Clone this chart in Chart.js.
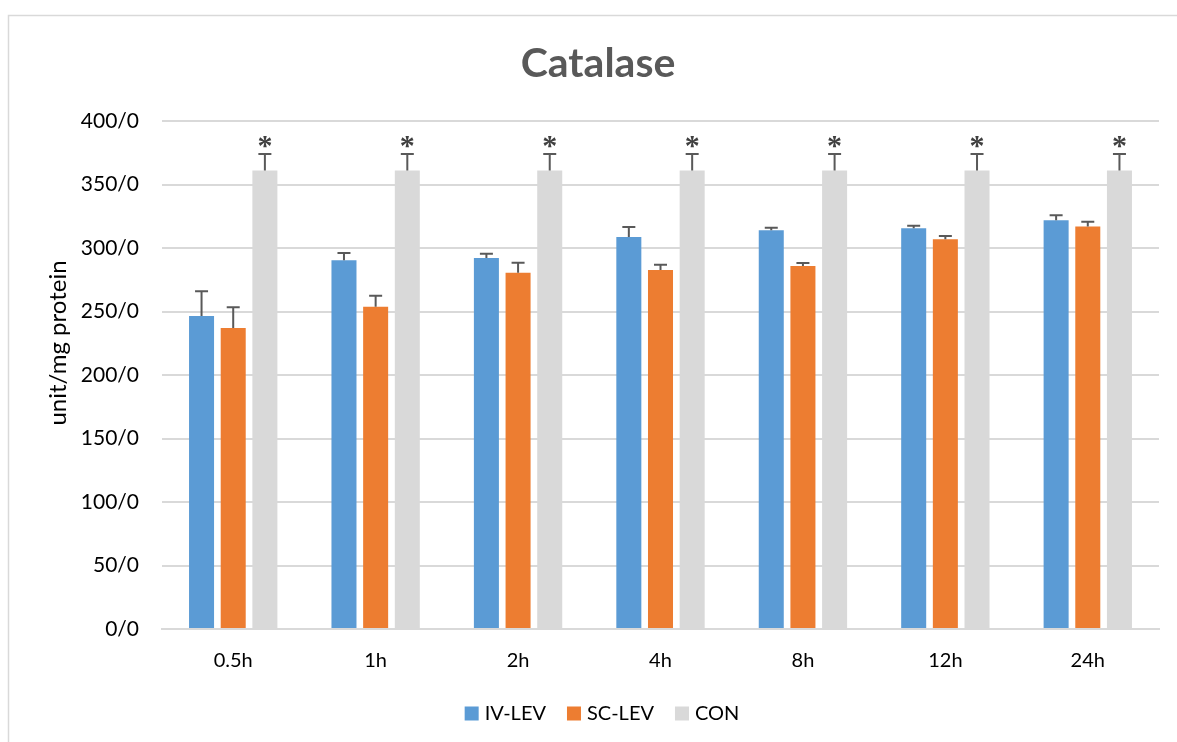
<!DOCTYPE html>
<html><head><meta charset="utf-8">
<script src="https://cdn.jsdelivr.net/npm/chart.js@4.4.1/dist/chart.umd.min.js"></script>
<style>html,body{margin:0;padding:0;background:#fff;overflow:hidden}#wrap{position:absolute;left:0;top:0;width:1177px;height:742px}</style>
</head><body><div id="wrap"><canvas id="c" width="1177" height="742"></canvas></div>
<script>
const categories = ['0.5h', '1h', '2h', '4h', '8h', '12h', '24h'];
const seriesNames = ['IV-LEV', 'SC-LEV', 'CON'];
const ivLev = [246.5, 290.3, 292.1, 308.7, 313.9, 315.5, 321.8];
const ivLevErr = [19.5, 5.8, 3.4, 7.8, 2.1, 2.1, 3.9];
const scLev = [237.0, 253.8, 280.6, 282.7, 285.8, 306.8, 317.0];
const scLevErr = [16.3, 8.7, 7.8, 4.2, 2.4, 2.6, 3.7];
const con = [361, 361, 361, 361, 361, 361, 361];
const conErr = [13, 13, 13, 13, 13, 13, 13];
const conMarks = ['*', '*', '*', '*', '*', '*', '*'];
const yTickValues = [0, 50, 100, 150, 200, 250, 300, 350, 400];
const yTickSuffix = '/0';
const chartTitle = 'Catalase';
const yAxisTitle = 'unit/mg protein';

const colors = ['#5b9bd5', '#ed7d31', '#d9d9d9'];
const FONT = 'Lato';

const errorBarPlugin = {
  id: 'errorBars',
  afterDatasetsDraw(chart) {
    const ctx = chart.ctx;
    const ys = chart.scales.y;
    chart.data.datasets.forEach((ds, di) => {
      const meta = chart.getDatasetMeta(di);
      meta.data.forEach((bar, i) => {
        const v = ds.data[i], e = ds.errors[i];
        const yTop = ys.getPixelForValue(v + e);
        const yBase = ys.getPixelForValue(v);
        ctx.save();
        ctx.strokeStyle = '#595959';
        ctx.lineWidth = 2;
        ctx.beginPath();
        ctx.moveTo(bar.x, yBase);
        ctx.lineTo(bar.x, yTop);
        ctx.moveTo(bar.x - 6.5, yTop);
        ctx.lineTo(bar.x + 6.5, yTop);
        ctx.stroke();
        if (ds.marks) {
          ctx.fillStyle = '#404040';
          ctx.font = 'bold 30px "Liberation Serif"';
          ctx.textAlign = 'center';
          ctx.textBaseline = 'alphabetic';
          ctx.fillText(ds.marks[i], bar.x, yTop + 1);
        }
        ctx.restore();
      });
    });
  }
};

const decorPlugin = {
  id: 'decor',
  beforeDraw(chart) {
    const ctx = chart.ctx;
    ctx.save();
    ctx.fillStyle = '#fff';
    ctx.fillRect(0, 0, chart.width, chart.height);
    ctx.strokeStyle = '#d9d9d9';
    ctx.lineWidth = 1.5;
    ctx.beginPath();
    ctx.moveTo(8.5, chart.height + 5);
    ctx.lineTo(8.5, 15.5);
    ctx.lineTo(chart.width + 5, 15.5);
    ctx.stroke();
    ctx.restore();
  },
  afterDraw(chart) {
    const ctx = chart.ctx;
    ctx.save();
    ctx.fillStyle = '#595959';
    ctx.font = 'bold 41px ' + FONT;
    ctx.textAlign = 'center';
    ctx.textBaseline = 'alphabetic';
    ctx.fillText(chartTitle, 598, 77);
    ctx.fillStyle = '#000';
    ctx.font = '24px ' + FONT;
    ctx.translate(58, 343);
    ctx.rotate(-Math.PI / 2);
    ctx.textBaseline = 'middle';
    ctx.fillText(yAxisTitle, 0, 0);
    ctx.restore();
    ctx.save();
    ctx.font = '20px ' + FONT;
    ctx.textBaseline = 'middle';
    ctx.textAlign = 'left';
    const box = 14, gapBox = 6, gapItem = 21;
    let total = 0;
    const widths = chart.data.datasets.map(d => ctx.measureText(d.label).width);
    widths.forEach((w, i) => { total += box + gapBox + w + (i < widths.length - 1 ? gapItem : 0); });
    let x = 602 - total / 2;
    const yc = 713.5;
    chart.data.datasets.forEach((d, i) => {
      ctx.fillStyle = d.backgroundColor;
      ctx.fillRect(x, yc - box / 2, box, box);
      x += box + gapBox;
      ctx.fillStyle = '#000';
      ctx.fillText(d.label, x, yc);
      x += widths[i] + gapItem;
    });
    ctx.restore();
  }
};

const ds = [
  { label: seriesNames[0], data: ivLev, errors: ivLevErr },
  { label: seriesNames[1], data: scLev, errors: scLevErr },
  { label: seriesNames[2], data: con, errors: conErr, marks: conMarks }
].map((d, i) => Object.assign(d, {
  backgroundColor: colors[i],
  borderWidth: 0,
  categoryPercentage: 0.667,
  barPercentage: 0.79
}));

new Chart(document.getElementById('c'), {
  type: 'bar',
  data: { labels: categories, datasets: ds },
  options: {
    responsive: false,
    animation: false,
    devicePixelRatio: 1,
    layout: { padding: { left: 0, right: 18, top: 121, bottom: 0 } },
    plugins: { legend: { display: false }, title: { display: false }, tooltip: { enabled: false } },
    scales: {
      x: {
        grid: { display: false, drawTicks: false },
        border: { display: true, color: '#d9d9d9', width: 2 },
        ticks: { color: '#000', font: { family: FONT, size: 20 }, padding: 20 },
        afterFit(s) { s.height = 742 - 629; }
      },
      y: {
        min: 0, max: 400,
        afterBuildTicks(s) { s.ticks = yTickValues.map(v => ({ value: v })); },
        grid: { color: '#d9d9d9', lineWidth: 2, drawTicks: false },
        border: { display: false },
        ticks: { color: '#000', font: { family: FONT, size: 21 }, padding: 23,
          callback: v => v + yTickSuffix },
        afterFit(s) { s.width = 162; }
      }
    }
  },
  plugins: [decorPlugin, errorBarPlugin]
});
</script></body></html>
